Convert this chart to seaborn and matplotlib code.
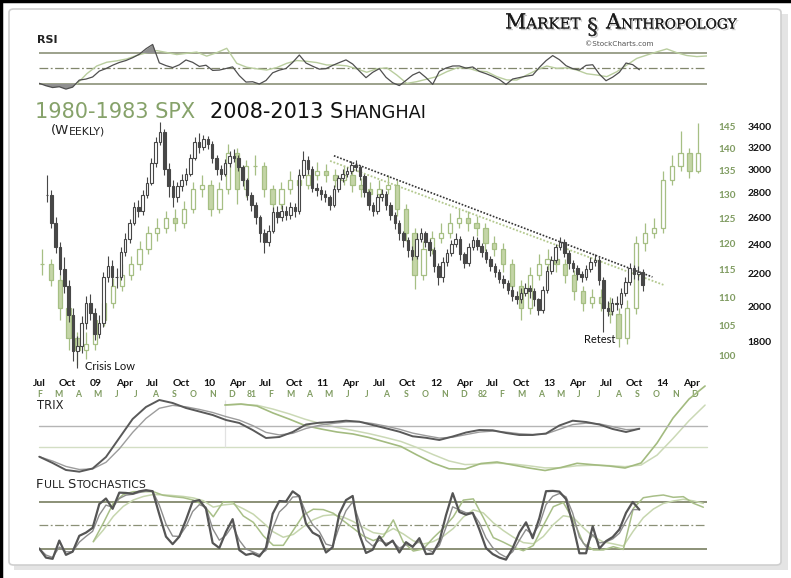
import numpy as np
import pandas as pd
import matplotlib
matplotlib.use("Agg")
import matplotlib.pyplot as plt
import matplotlib.patheffects as pe
from matplotlib.patches import FancyBboxPatch, Rectangle
from matplotlib.lines import Line2D
from matplotlib.ticker import NullLocator, NullFormatter
import seaborn as sns

# ---------------- data ----------------
# Shanghai Composite, biweekly candles, x in months since Jan 2008
SH_START, SH_STEP = 6.84, 0.46
sh_close = [
    2780, 2560, 2380, 2230, 2120, 1950, 1750, 1780, 1900, 2020,
    1960, 1840, 1900, 2180, 2250, 2180, 2180, 2350, 2440, 2560,
    2680, 2650, 2780, 2880, 3050, 3250, 3350, 3000, 2850, 2760,
    2850, 2900, 2960, 3100, 3250, 3200, 3280, 3230, 3100, 3000,
    2960, 3050, 3120, 3100, 3020, 2900, 2780, 2700, 2600, 2480,
    2420, 2500, 2640, 2600, 2650, 2620, 2680, 2650, 2950, 3080,
    3000, 2840, 2820, 2790, 2760, 2700, 2830, 2920, 2960, 2980,
    3040, 3020, 2940, 2800, 2700, 2650, 2760, 2790, 2700, 2620,
    2560, 2480, 2430, 2360, 2320, 2440, 2480, 2420, 2360, 2250,
    2180, 2280, 2340, 2400, 2440, 2330, 2270, 2380, 2430, 2390,
    2350, 2300, 2250, 2210, 2170, 2140, 2100, 2060, 2040, 2080,
    2110, 2090, 2040, 1980, 2100, 2220, 2290, 2380, 2420, 2340,
    2270, 2240, 2200, 2180, 2230, 2280, 2290, 2160, 1990, 1970,
    2020, 2010, 2080, 2150, 2240, 2200, 2210, 2130,
]
sh_high = [
    2950, 2820, 2600, 2420, 2310, 2160, 1990, 1830, 1940, 2060,
    2070, 1990, 1950, 2210, 2320, 2290, 2240, 2380, 2480, 2590,
    2720, 2740, 2820, 2930, 3100, 3300, 3450, 3380, 3050, 2900,
    2890, 2960, 3010, 3140, 3300, 3340, 3320, 3310, 3260, 3130,
    3040, 3090, 3160, 3180, 3130, 3040, 2920, 2800, 2720, 2620,
    2510, 2540, 2680, 2690, 2700, 2690, 2720, 2710, 3000, 3160,
    3120, 3030, 2880, 2850, 2820, 2780, 2860, 2950, 3000, 3020,
    3070, 3080, 3040, 2960, 2820, 2720, 2790, 2830, 2810, 2720,
    2640, 2580, 2500, 2450, 2390, 2480, 2520, 2500, 2440, 2380,
    2270, 2310, 2370, 2430, 2480, 2460, 2350, 2410, 2460, 2450,
    2410, 2370, 2320, 2270, 2230, 2190, 2160, 2120, 2090, 2110,
    2140, 2130, 2110, 2050, 2120, 2250, 2320, 2400, 2450, 2440,
    2360, 2290, 2260, 2220, 2260, 2310, 2330, 2310, 2180, 2030,
    2050, 2060, 2110, 2180, 2270, 2260, 2250, 2230,
]
sh_low = [
    2720, 2520, 2340, 2190, 2080, 1910, 1700, 1664, 1740, 1870,
    1920, 1810, 1820, 1880, 2150, 2120, 2110, 2160, 2320, 2410,
    2540, 2600, 2620, 2750, 2860, 3020, 3220, 2950, 2760, 2680,
    2720, 2810, 2860, 2940, 3080, 3150, 3170, 3180, 3050, 2950,
    2900, 2940, 3020, 3060, 2980, 2850, 2740, 2650, 2550, 2420,
    2340, 2390, 2480, 2560, 2570, 2580, 2590, 2600, 2630, 2920,
    2960, 2800, 2770, 2740, 2720, 2660, 2680, 2800, 2890, 2930,
    2960, 2980, 2900, 2760, 2660, 2610, 2630, 2730, 2660, 2580,
    2510, 2430, 2380, 2310, 2290, 2300, 2420, 2380, 2320, 2210,
    2130, 2150, 2250, 2320, 2380, 2290, 2240, 2250, 2360, 2360,
    2310, 2270, 2220, 2180, 2140, 2110, 2070, 2030, 2010, 2020,
    2060, 2050, 2000, 1950, 1960, 2080, 2200, 2270, 2360, 2310,
    2230, 2210, 2160, 2150, 2160, 2210, 2250, 2130, 1850, 1940,
    1950, 1980, 1990, 2060, 2130, 2170, 2160, 2090,
]

# S&P 500, biweekly candles, x in months since Jan 1980
SPX_START, SPX_STEP = 1.14, 0.46
spx_close = [
    116, 113, 108, 103, 101, 102, 106, 109, 112, 114,
    116, 119, 122, 123, 125, 124, 127, 131, 132, 127,
    131, 139, 131, 136, 136, 131, 128, 131, 133, 132,
    134, 135, 134, 133, 134, 132, 131, 130, 131, 132,
    127, 122, 114, 119, 121, 122, 124, 125, 124, 123,
    120, 119, 116, 112, 108, 114, 116, 117, 116, 114,
    111, 109, 110, 109, 107, 103, 108, 120, 122, 123,
    133, 136, 139, 135, 139,
]
spx_high = [
    119, 117, 114, 109, 104, 104, 107, 110.5, 113.5, 116,
    117.5, 120.5, 123.5, 125, 126.5, 127, 128.5, 132.5, 134, 133,
    132.5, 141, 140, 137.5, 138.5, 137, 132, 132.5, 135, 134.5,
    136, 137, 136.5, 135.5, 136, 135, 133.5, 132.5, 133, 134,
    133, 128, 123, 120.5, 122.5, 124, 126, 127, 126.5, 125.5,
    124, 121.5, 120, 117, 113, 115.5, 118, 119, 118.5, 117,
    115, 112, 111.5, 111.5, 110, 108, 109.5, 121.5, 124, 125,
    135, 138.5, 144, 140, 146,
]
spx_low = [
    114, 112, 106, 101, 98.5, 99.5, 101, 105, 108, 111,
    113, 115, 118, 120.5, 122, 122.5, 123, 126, 129.5, 125.5,
    126, 130, 128, 129.5, 134, 129.5, 126, 127, 130, 130.5,
    131, 133, 132.5, 131.5, 132, 130.5, 129.5, 128.5, 129, 130,
    125.5, 120.5, 111.5, 113, 118, 120, 121, 123, 122.5, 121.5,
    118.5, 117.5, 114.5, 110.5, 106, 107, 113, 115, 114.5, 112.5,
    109.5, 107.5, 108, 107.5, 105.5, 101.5, 102, 107, 118.5, 121,
    122, 132, 135, 133.5, 134.5,
]

# RSI (evenly sampled between the given month spans)
rsi_sh_span = (6.76, 69.59)
rsi_sh = [
    30.9, 27.8, 25.5, 26.5, 23.5, 26, 35, 36.3, 39, 46.5,
    49.7, 54, 57.5, 60, 63.6, 68, 75, 80.5, 57, 53.5,
    51, 54.5, 60.7, 57.7, 52.5, 54, 47.4, 47.8, 49.8, 51.9,
    40.7, 32.5, 32.9, 30, 34.5, 44.3, 47.7, 49.8, 57.6, 67,
    56.8, 52.7, 49, 49.6, 53.8, 57.4, 60.8, 55.5, 46.6, 38.1,
    44.9, 49.6, 38.6, 31.6, 28, 34.6, 41.5, 45.3, 38.2, 29.6,
    46.1, 50.4, 53, 53.1, 50.3, 51.8, 46.1, 43.2, 39.8, 35.7,
    29.4, 36.4, 38.2, 40, 41.3, 51.2, 59.8, 66.3, 61.1, 53.4,
    49.6, 47.8, 53.8, 54.6, 42.6, 34.2, 38.8, 45, 56.8, 54.7,
    48.2,
]
rsi_spx_span = (2.94, 35.62)
rsi_spx = [
    30, 43, 53, 57.8, 59.6, 62, 66.5, 70, 72.7, 70.2,
    67.6, 69.2, 70.8, 65.6, 70, 75.6, 56.4, 51.4, 49.4, 47.9,
    51, 56.4, 60, 59, 57.4, 54.3, 54.3, 53.2, 49.4, 45,
    49.4, 50.7, 41.5, 30.8, 33, 36.2, 39.4, 45.7, 50.5, 51,
    46.8, 45.7, 39.4, 35.2, 35.1, 41.5, 47.9, 53, 50, 50.7,
    47.9, 43.1, 41.5, 39.4, 45.7, 54.3, 62.7, 67, 71, 74.8,
    70, 66.4, 65, 65.8,
]

# TRIX
trix_sh_span = (6.76, 69.59)
trix_sh = [
    -3.07, -3.70, -4.40, -4.57, -4.25, -3.10, -1.20, 0.70, 1.90, 2.60,
    2.30, 1.80, 1.45, 1.10, 0.60, 0.30, -0.40, -1.20, -1.10, -0.60,
    0.15, 0.33, 0.40, 0.53, 0.43, 0.10, -0.23, -0.57, -1.03, -1.18,
    -1.40, -1.05, -0.65, -0.40, -0.43, -0.70, -0.90, -0.90, -0.75, 0.05,
    0.53, 0.40, 0.15, -0.30, -0.60, -0.27,
]
trix_spx_span = (10.63, 35.53)
trix_spx = [
    4.2, 4.3, 4.1, 3.4, 2.8, 2.15, 1.8, 1.5, 1.3, 0.95,
    0.5, 0.05, -0.8, -1.6, -2.18, -2.2, -1.65, -1.5, -1.8, -2.1,
    -2.35, -2.05, -1.63, -1.77, -1.9, -2.1, -1.6, 0.4, 2.9, 4.8,
    6.1,
]

# Full stochastics %K
stoch_sh_span = (6.76, 69.59)
stoch_sh = [
    21, 9.5, 8, 31, 13, 17, 37, 41, 47, 77,
    84, 71, 91.4, 91, 90, 93, 94.5, 93.2, 64, 36,
    26.5, 36, 57, 80.2, 82, 71, 28, 21.7, 42, 58,
    19, 13, 14.8, 11, 22, 64.7, 80.8, 80.2, 93, 87,
    52.4, 41, 36.5, 16, 22.6, 64.7, 82, 87.2, 39, 15.4,
    19.4, 36.3, 24.8, 31, 16, 29, 23, 34, 14, 14.5,
    30, 63, 90.7, 67, 63.6, 66, 45, 21.6, 14, 9.6,
    7, 21.6, 41, 54, 34, 59.3, 93.2, 93.6, 92.7, 83.2,
    52, 15, 15, 49, 21, 30.3, 35.5, 45, 66, 79.6,
    70,
]
stoch_spx_span = (3.80, 35.44)
stoch_spx = [
    29.6, 53, 78, 89, 92.6, 92.6, 92.6, 88, 86.3, 85,
    82, 76, 61, 80, 79, 62, 54, 37, 25, 25,
    44, 63, 70.5, 70, 65.4, 56, 46.5, 36.7, 31, 36,
    57, 29, 17.8, 20.5, 34.5, 46.5, 61, 82, 83.5, 60,
    34.7, 29, 22.7, 18.2, 24.8, 49.9, 73.7, 78.9, 56.9, 27.6,
    19.2, 19.2, 23.3, 19.8, 71.5, 85, 87, 88.4, 85.5, 86.3,
    78, 73,
]

# trendlines (months, price)
sh_trend_x, sh_trend_y = [37.2, 70.9], [3120, 2180]
spx_trend_x, spx_trend_y = [16.08, 33.37], [137.2, 112.2]

# axis labels
sh_tick_months = [6, 9, 12, 15, 18, 21, 24, 27, 30, 33, 36, 39, 42, 45, 48, 51,
                  54, 57, 60, 63, 66, 69, 72, 75]
sh_tick_labels = ["Jul", "Oct", "09", "Apr", "Jul", "Oct", "10", "Apr", "Jul", "Oct",
                  "11", "Apr", "Jul", "Oct", "12", "Apr", "Jul", "Oct", "13", "Apr",
                  "Jul", "Oct", "14", "Apr"]
spx_tick_months = list(range(1, 36))
spx_tick_labels = ["F", "M", "A", "M", "J", "J", "A", "S", "O", "N", "D",
                   "81", "F", "M", "A", "M", "J", "J", "A", "S", "O", "N", "D",
                   "82", "F", "M", "A", "M", "J", "J", "A", "S", "O", "N", "D"]
sh_levels = [1800, 2000, 2200, 2400, 2600, 2800, 3000, 3200, 3400]
spx_levels = [100, 105, 110, 115, 120, 125, 130, 135, 140, 145]

# ---------------- style ----------------
sns.set_theme(style="white")
plt.rcParams["font.family"] = ["DejaVu Sans"]
plt.rcParams["axes.grid"] = False

W, H = 791, 578
GREEN_TXT = "#7f9b60"
BLK_C = "#474747"
GRN_EDGE = "#a6bf84"
GRN_FILL = "#c4d5a7"
LEVEL = "#81876c"

fig = plt.figure(figsize=(W / 100, H / 100), dpi=100)
fig.patch.set_facecolor("white")


def rect(top, bottom):
    return [39 / W, 1 - bottom / H, 668 / W, (bottom - top) / H]


def clean(ax):
    ax.set_facecolor("none")
    for s in ax.spines.values():
        s.set_visible(False)
    ax.tick_params(length=0)
    ax.set_xticks([])
    ax.set_yticks([])
    ax.set_xlabel("")
    ax.set_ylabel("")


def candles(ax, start, step, close, high, low, width, edge, down_face, lw):
    c = np.asarray(close, float)
    o = np.concatenate([[c[0]], c[:-1]])
    x = start + step * np.arange(len(c))
    up = c >= o
    ax.vlines(x, low, high, color=edge, lw=lw, zorder=2)
    bottom = np.minimum(o, c)
    height = np.abs(c - o)
    ax.bar(x[up], height[up], width, bottom=bottom[up], color="white",
           edgecolor=edge, linewidth=lw, zorder=3)
    ax.bar(x[~up], height[~up], width, bottom=bottom[~up], color=down_face,
           edgecolor=edge, linewidth=lw, zorder=3)


def line(ax, span, vals, color, lw, signal=None, sig_color=None, sig_lw=1.0):
    x = np.linspace(span[0], span[1], len(vals))
    y = pd.Series(vals, dtype=float)
    if signal is not None:
        sns.lineplot(x=x, y=y.ewm(alpha=signal).mean().values, ax=ax,
                     color=sig_color, lw=sig_lw)
    sns.lineplot(x=x, y=y.values, ax=ax, color=color, lw=lw)
    return x, y.values


SH_XLIM = (6.73, 76.67)
SPX_XLIM = (0.984, 35.63)

# ---------------- RSI ----------------
ax_rsi = fig.add_axes(rect(40, 92))
ax_rsi2 = ax_rsi.twiny()
for a in (ax_rsi, ax_rsi2):
    clean(a)
ax_rsi.set_xlim(*SPX_XLIM)
ax_rsi2.set_xlim(*SH_XLIM)
ax_rsi.set_ylim(19.8, 86.2)
ax_rsi.axhline(70, color=LEVEL, lw=1.1)
ax_rsi.axhline(30, color=LEVEL, lw=1.1)
ax_rsi.axhline(50, color=LEVEL, lw=0.9, ls=(0, (7, 2, 1.5, 2)))
line(ax_rsi, rsi_spx_span, rsi_spx, "#b9cd9e", 1.0)
xr, yr = line(ax_rsi2, rsi_sh_span, rsi_sh, "#4f4f4f", 0.9)
ax_rsi2.fill_between(xr, 70, yr, where=yr > 70, interpolate=True,
                     color="#8f8f8f", lw=0)
ax_rsi2.fill_between(xr, 30, yr, where=yr < 30, interpolate=True,
                     color="#8f8f8f", lw=0)
ax_rsi2.set_ylim(19.8, 86.2)
clean(ax_rsi)
clean(ax_rsi2)

# ---------------- main price panel ----------------
ax_spx = fig.add_axes(rect(97, 372))
ax_sh = fig.add_axes(rect(97, 372))
for a in (ax_spx, ax_sh):
    a.set_facecolor("none")
    for s in a.spines.values():
        s.set_visible(False)

candles(ax_spx, SPX_START, SPX_STEP, spx_close, spx_high, spx_low,
        0.22, GRN_EDGE, GRN_FILL, 0.9)
candles(ax_sh, SH_START, SH_STEP, sh_close, sh_high, sh_low,
        0.27, BLK_C, BLK_C, 0.8)
ax_spx.plot(spx_trend_x, spx_trend_y, color="#b3c88e", lw=1.3, ls=(0, (1, 1)))
ax_sh.plot(sh_trend_x, sh_trend_y, color="#333333", lw=1.2, ls=(0, (1, 1)))

for a, lim in ((ax_spx, (97.4, 152.2)), (ax_sh, (1646, 3712))):
    a.set_yscale("log")
    a.set_ylim(*lim)
    a.yaxis.set_minor_locator(NullLocator())
    a.yaxis.set_minor_formatter(NullFormatter())
    a.yaxis.tick_right()
ax_spx.set_xlim(*SPX_XLIM)
ax_sh.set_xlim(*SH_XLIM)

ax_sh.set_yticks(sh_levels, [str(v) for v in sh_levels])
ax_spx.set_yticks(spx_levels, [str(v) for v in spx_levels])
ax_sh.set_xticks(sh_tick_months, sh_tick_labels)
ax_spx.set_xticks(spx_tick_months, spx_tick_labels)
ax_sh.tick_params(axis="y", length=0, pad=29, labelsize=7.5, labelcolor="#111111")
ax_spx.tick_params(axis="y", length=0, pad=8, labelsize=7.2, labelcolor=GREEN_TXT)
ax_sh.tick_params(axis="x", length=0, pad=5, labelsize=7.5, labelcolor="#111111")
ax_spx.tick_params(axis="x", length=0, pad=13, labelsize=6.2, labelcolor=GREEN_TXT)
for a in (ax_sh, ax_spx):
    for lbl in a.get_xticklabels() + a.get_yticklabels():
        lbl.set_fontfamily("Lato")
        lbl.set_fontweight("bold")

ax_sh.text(10.82, 1655, "Crisis Low", fontsize=8, family="Lato",
           color="#111111", va="baseline", ha="left")
ax_sh.text(63.7, 1793, "Retest", fontsize=8, family="Lato",
           color="#111111", va="baseline", ha="left")

# ---------------- TRIX ----------------
ax_tg = fig.add_axes(rect(380, 478))
ax_tb = fig.add_axes(rect(380, 478))
for a in (ax_tg, ax_tb):
    clean(a)
ax_tg.set_xlim(*SPX_XLIM)
ax_tb.set_xlim(*SH_XLIM)
ax_tg.set_ylim(-3.1, 6.7)
ax_tb.set_ylim(-5.2, 4.6)
ax_tg.axhline(0, color="#d3dec4", lw=1.0)
ax_tb.axhline(0, color="#b5b5b5", lw=1.0)
ax_tg.vlines(trix_spx_span[0], 0, 4.7, color="#e2e2e2", lw=0.9)
line(ax_tg, trix_spx_span, trix_spx, "#a3bb80", 1.2, signal=0.45,
     sig_color="#cbd9b6", sig_lw=1.1)
line(ax_tb, trix_sh_span, trix_sh, "#595959", 1.4, signal=0.55,
     sig_color="#9c9c9c", sig_lw=1.0)
for a in (ax_tg, ax_tb):
    clean(a)
    for ln in a.lines:
        ln.set_clip_on(False)
ax_tg.set_ylim(-3.1, 6.7)
ax_tb.set_ylim(-5.2, 4.6)

# ---------------- Full stochastics ----------------
ax_st = fig.add_axes(rect(485, 563))
ax_st2 = ax_st.twiny()
for a in (ax_st, ax_st2):
    clean(a)
ax_st.set_xlim(*SPX_XLIM)
ax_st2.set_xlim(*SH_XLIM)
ax_st.axhline(80, color="#8b9077", lw=1.4)
ax_st.axhline(20, color="#8b9077", lw=1.4)
ax_st.axhline(50, color="#8b9077", lw=0.9, ls=(0, (7, 2, 1.5, 2)))
line(ax_st, stoch_spx_span, stoch_spx, "#a8bf88", 1.1, signal=0.4,
     sig_color="#c6d6ae", sig_lw=1.1)
line(ax_st2, stoch_sh_span, stoch_sh, "#555555", 1.6, signal=0.6,
     sig_color="#8d8d8d", sig_lw=1.0)
ax_st.set_ylim(2.75, 101)
clean(ax_st)
clean(ax_st2)

# ---------------- frame & texts ----------------
fig.patches.append(Rectangle((14 / W, 1 - 570 / H), 774 / W, 556 / H,
                             transform=fig.transFigure, facecolor="#e4e4e4",
                             edgecolor="none", zorder=-3))
fig.patches.append(FancyBboxPatch((9 / W, 1 - 565 / H), 772 / W, 556 / H,
                                  boxstyle="round,pad=0,rounding_size=0.006",
                                  transform=fig.transFigure, facecolor="white",
                                  edgecolor="#cfcfcf", lw=1.2, zorder=-2))
fig.lines.append(Line2D([0, 1], [1 - 1 / H] * 2, transform=fig.transFigure,
                        color="black", lw=2.5))
fig.lines.append(Line2D([1 / W] * 2, [0, 1], transform=fig.transFigure,
                        color="black", lw=2.5))

renderer = fig.canvas.get_renderer()


def chain(x, y, parts, color, family="DejaVu Sans", weight="normal", effects=None):
    for s, size in parts:
        t = fig.text(x / W, 1 - y / H, s, fontsize=size, color=color,
                     family=family, weight=weight, ha="left", va="baseline",
                     path_effects=effects)
        x += t.get_window_extent(renderer=renderer).width
    return x


shadow = [pe.withSimplePatchShadow(offset=(1.2, -1.2), shadow_rgbFace="#9a9a9a",
                                   alpha=0.55), pe.Normal()]
chain(505, 28.5, [("M", 15), ("ARKET", 10.8)], "#1a1a1a", "DejaVu Serif",
      effects=shadow)
fig.text(587 / W, 1 - 34 / H, "§", fontsize=16, color="#2a2a2a",
         family="DejaVu Serif", va="baseline", path_effects=shadow)
chain(606, 28.5, [("A", 15), ("NTHROPOLOGY", 9.9)], "#1a1a1a", "DejaVu Serif",
      effects=shadow)
fig.text(585 / W, 1 - 46.5 / H, "©StockCharts.com", fontsize=5.2,
         color="#555555", va="baseline")

fig.text(37 / W, 1 - 43 / H, "RSI", fontsize=8, weight="bold", color="#222222",
         va="baseline")
chain(35, 118.5, [("1980-1983 SPX", 15)], "#86a26a")
chain(210, 118.5, [("2008-2013 ", 15), ("S", 15), ("HANGHAI", 12.8)], "#111111")
chain(51, 134, [("(W", 9.5), ("EEKLY)", 7.8)], "#222222")
fig.text(37 / W, 1 - 409 / H, "TRIX", fontsize=8.3, color="#222222",
         va="baseline")
chain(36, 487.5, [("F", 9.5), ("ULL ", 7.8), ("S", 9.5), ("TOCHASTICS", 7.8)],
      "#222222")

fig.savefig("out.png", dpi=100)
